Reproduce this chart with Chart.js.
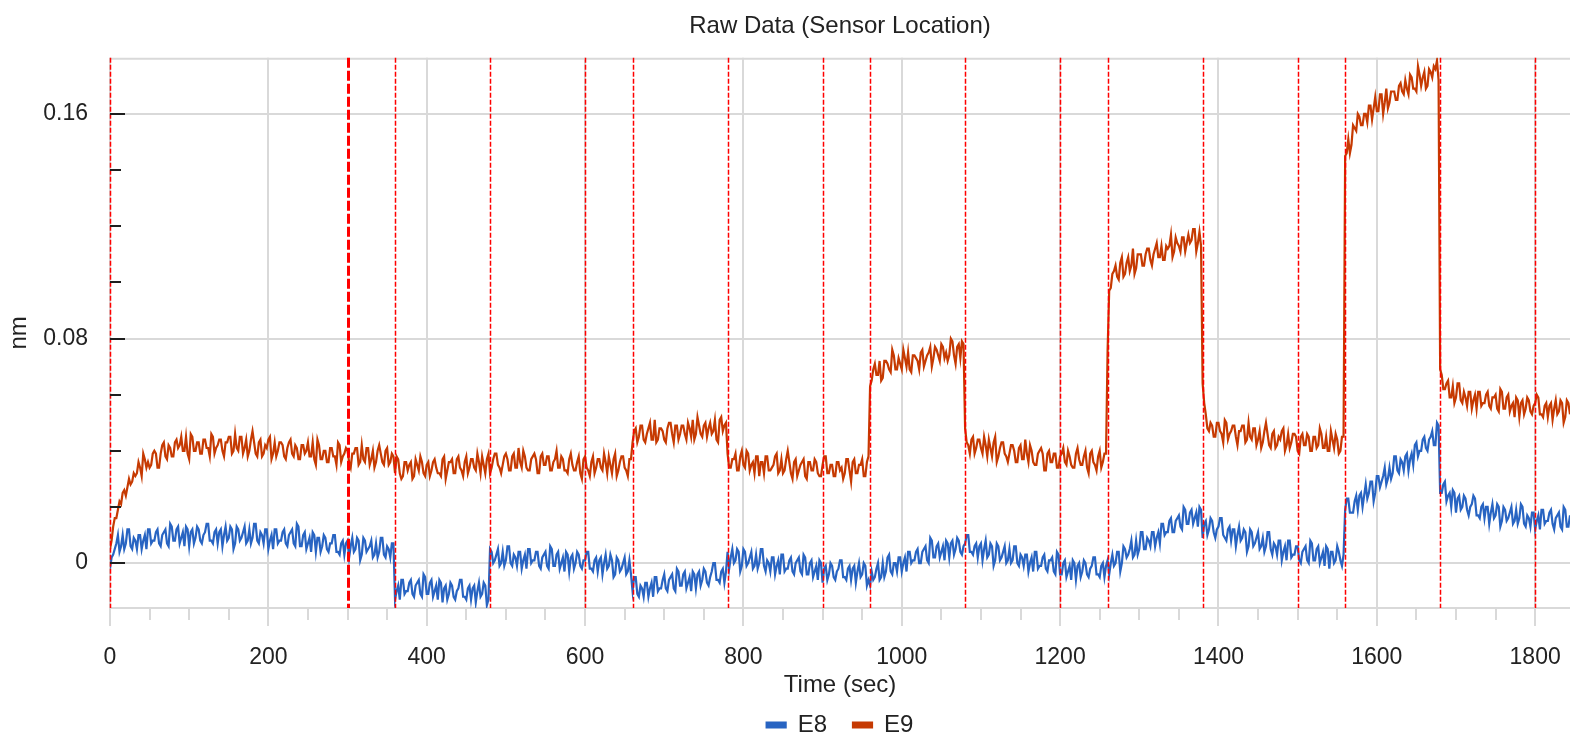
<!DOCTYPE html>
<html>
<head>
<meta charset="utf-8">
<title>Raw Data (Sensor Location)</title>
<script src="https://cdn.jsdelivr.net/npm/chart.js@4.4.1/dist/chart.umd.min.js"></script>
<style>
  html, body { margin: 0; padding: 0; background: #fff; }
  #wrap { width: 1570px; height: 732px; }
</style>
</head>
<body>
<div id="wrap"><canvas id="rawChart" width="1570" height="732"></canvas></div>
<script>
// Sensor trace, one reading every 2 s starting at t = 0 (nm)
const SAMPLE_STEP = 2;

const E8 = [
  -0.002, 0.002, 0.003, 0.005, 0.007, 0.010, 0.004, 0.006, 0.010, 0.005,
  0.007, 0.012, 0.012, 0.006, 0.005, 0.009, 0.008, 0.005, 0.010, 0.010,
  0.005, 0.008, 0.010, 0.005, 0.012, 0.012, 0.007, 0.008, 0.008, 0.011,
  0.012, 0.007, 0.006, 0.010, 0.011, 0.012, 0.007, 0.006, 0.014, 0.013,
  0.008, 0.008, 0.012, 0.013, 0.007, 0.009, 0.011, 0.006, 0.013, 0.012,
  0.006, 0.011, 0.012, 0.007, 0.009, 0.013, 0.012, 0.008, 0.007, 0.010,
  0.011, 0.014, 0.014, 0.008, 0.008, 0.007, 0.011, 0.012, 0.007, 0.011,
  0.012, 0.006, 0.010, 0.013, 0.008, 0.009, 0.013, 0.012, 0.005, 0.007,
  0.013, 0.012, 0.008, 0.009, 0.011, 0.013, 0.007, 0.008, 0.012, 0.007,
  0.009, 0.014, 0.014, 0.008, 0.007, 0.011, 0.010, 0.007, 0.012, 0.012,
  0.005, 0.008, 0.010, 0.005, 0.012, 0.012, 0.007, 0.008, 0.008, 0.011,
  0.012, 0.007, 0.006, 0.010, 0.011, 0.012, 0.007, 0.006, 0.014, 0.013,
  0.006, 0.006, 0.010, 0.011, 0.005, 0.007, 0.009, 0.004, 0.011, 0.010,
  0.004, 0.009, 0.009, 0.004, 0.006, 0.010, 0.009, 0.005, 0.004, 0.007,
  0.007, 0.010, 0.010, 0.004, 0.004, 0.003, 0.007, 0.008, 0.003, 0.007,
  // 300 s
  0.008, 0.002, 0.006, 0.009, 0.004, 0.005, 0.009, 0.008, 0.001, 0.003,
  0.009, 0.008, 0.004, 0.005, 0.006, 0.008, 0.002, 0.003, 0.007, 0.002,
  0.004, 0.009, 0.009, 0.003, 0.002, 0.006, 0.005, 0.002, 0.007, 0.007,
  // 360 s
  -0.013, -0.010, -0.008, -0.013, -0.006, -0.006, -0.011, -0.010, -0.010, -0.007,
  -0.006, -0.011, -0.012, -0.008, -0.007, -0.006, -0.011, -0.012, -0.004, -0.005,
  -0.011, -0.011, -0.007, -0.006, -0.012, -0.010, -0.008, -0.013, -0.006, -0.007,
  -0.014, -0.009, -0.008, -0.013, -0.011, -0.007, -0.008, -0.012, -0.013, -0.010,
  -0.009, -0.006, -0.006, -0.012, -0.012, -0.013, -0.009, -0.008, -0.013, -0.009,
  -0.008, -0.014, -0.010, -0.007, -0.012, -0.011, -0.007, -0.008, -0.015, -0.013,
  // 480 s
  0.005, 0.004, 0.000, 0.001, 0.003, 0.005, -0.001, 0.000, 0.004, -0.001,
  0.001, 0.006, 0.006, 0.000, -0.001, 0.003, 0.002, -0.001, 0.004, 0.004,
  -0.002, 0.001, 0.003, -0.002, 0.005, 0.005, 0.000, 0.001, 0.001, 0.004,
  0.004, -0.001, -0.002, 0.002, 0.003, 0.004, -0.001, -0.002, 0.006, 0.005,
  -0.001, -0.001, 0.003, 0.004, -0.002, 0.000, 0.002, -0.003, 0.004, 0.003,
  -0.003, 0.002, 0.003, -0.002, 0.000, 0.004, 0.003, -0.001, -0.002, 0.001,
  // 600 s
  0.001, 0.004, 0.004, -0.002, -0.002, -0.003, 0.001, 0.002, -0.003, 0.001,
  0.002, -0.004, 0.000, 0.003, -0.002, -0.001, 0.003, 0.001, -0.005, -0.004,
  0.002, 0.001, -0.003, -0.002, 0.000, 0.002, -0.004, -0.003, 0.001, -0.004,
  // 660 s
  -0.010, -0.005, -0.005, -0.011, -0.012, -0.008, -0.009, -0.012, -0.007, -0.007,
  -0.012, -0.009, -0.007, -0.012, -0.005, -0.005, -0.010, -0.009, -0.009, -0.006,
  -0.004, -0.009, -0.010, -0.006, -0.005, -0.004, -0.009, -0.010, -0.002, -0.003,
  -0.008, -0.008, -0.004, -0.003, -0.009, -0.007, -0.005, -0.010, -0.003, -0.004,
  -0.009, -0.004, -0.003, -0.008, -0.006, -0.002, -0.003, -0.007, -0.008, -0.005,
  -0.003, 0.000, 0.000, -0.006, -0.006, -0.007, -0.003, -0.002, -0.007, -0.003,
  // 780 s
  0.004, -0.002, 0.002, 0.005, 0.000, 0.001, 0.005, 0.004, -0.003, -0.001,
  0.005, 0.004, -0.001, 0.000, 0.002, 0.004, -0.002, -0.001, 0.003, -0.002,
  0.000, 0.005, 0.005, -0.001, -0.003, 0.001, 0.000, -0.003, 0.002, 0.002,
  -0.004, -0.001, 0.001, -0.004, 0.003, 0.003, -0.003, -0.002, -0.002, 0.001,
  0.002, -0.003, -0.004, 0.000, 0.001, 0.002, -0.003, -0.004, 0.003, 0.002,
  -0.004, -0.004, 0.000, 0.001, -0.005, -0.003, -0.001, -0.006, 0.001, 0.000,
  // 900 s
  -0.007, -0.002, -0.001, -0.006, -0.004, 0.000, -0.001, -0.005, -0.006, -0.003,
  -0.002, 0.001, 0.001, -0.005, -0.005, -0.006, -0.002, -0.001, -0.006, -0.002,
  -0.001, -0.007, -0.003, 0.000, -0.005, -0.004, 0.000, -0.001, -0.008, -0.006,
  // 960 s
  -0.008, -0.003, -0.006, -0.005, -0.002, 0.000, -0.006, -0.005, 0.000, -0.005,
  -0.003, 0.002, 0.003, -0.003, -0.004, 0.000, 0.000, -0.003, 0.002, 0.002,
  -0.003, 0.000, 0.002, -0.003, 0.004, 0.004, 0.000, 0.001, 0.001, 0.004,
  0.005, 0.000, 0.000, 0.004, 0.005, 0.006, 0.001, 0.000, 0.009, 0.008,
  0.002, 0.002, 0.006, 0.007, 0.002, 0.004, 0.006, 0.001, 0.008, 0.007,
  0.002, 0.007, 0.008, 0.003, 0.005, 0.009, 0.008, 0.004, 0.003, 0.006,
  // 1080 s
  0.007, 0.010, 0.010, 0.004, 0.004, 0.003, 0.006, 0.007, 0.002, 0.006,
  0.007, 0.001, 0.005, 0.008, 0.002, 0.003, 0.007, 0.006, -0.001, 0.001,
  0.007, 0.006, 0.001, 0.002, 0.004, 0.006, 0.000, 0.001, 0.005, 0.000,
  0.001, 0.006, 0.006, 0.000, -0.001, 0.003, 0.002, -0.001, 0.003, 0.003,
  -0.003, 0.000, 0.002, -0.003, 0.004, 0.004, -0.002, -0.001, -0.001, 0.002,
  0.003, -0.002, -0.003, 0.001, 0.001, 0.002, -0.003, -0.004, 0.004, 0.003,
  // 1200 s
  -0.004, -0.004, 0.000, 0.001, -0.005, -0.003, -0.001, -0.006, 0.001, 0.000,
  -0.006, -0.001, 0.000, -0.005, -0.003, 0.001, 0.000, -0.004, -0.005, -0.002,
  -0.001, 0.002, 0.002, -0.004, -0.004, -0.005, -0.001, 0.000, -0.005, -0.001,
  // 1260 s
  0.001, -0.004, 0.000, 0.003, -0.001, 0.000, 0.004, 0.004, -0.003, 0.000,
  0.006, 0.005, 0.002, 0.003, 0.005, 0.008, 0.002, 0.003, 0.008, 0.003,
  0.005, 0.011, 0.011, 0.005, 0.005, 0.009, 0.008, 0.006, 0.011, 0.011,
  0.006, 0.009, 0.011, 0.007, 0.014, 0.014, 0.010, 0.011, 0.011, 0.015,
  0.016, 0.011, 0.011, 0.015, 0.016, 0.017, 0.013, 0.012, 0.020, 0.019,
  0.014, 0.014, 0.018, 0.019, 0.014, 0.016, 0.018, 0.013, 0.020, 0.019,
  // 1380 s
  0.009, 0.014, 0.015, 0.010, 0.012, 0.016, 0.015, 0.011, 0.009, 0.012,
  0.013, 0.016, 0.016, 0.010, 0.009, 0.008, 0.012, 0.013, 0.008, 0.012,
  0.012, 0.006, 0.010, 0.013, 0.008, 0.009, 0.012, 0.011, 0.004, 0.006,
  0.012, 0.011, 0.006, 0.007, 0.009, 0.011, 0.005, 0.006, 0.009, 0.004,
  0.006, 0.011, 0.011, 0.005, 0.003, 0.007, 0.006, 0.003, 0.008, 0.008,
  0.001, 0.004, 0.006, 0.001, 0.008, 0.008, 0.002, 0.003, 0.003, 0.006,
  // 1500 s
  0.006, 0.001, 0.000, 0.004, 0.005, 0.006, 0.001, 0.000, 0.008, 0.007,
  0.001, 0.001, 0.005, 0.006, 0.000, 0.002, 0.004, -0.001, 0.006, 0.005,
  -0.002, 0.004, 0.004, 0.000, 0.001, 0.006, 0.004, 0.001, -0.001, 0.003,
  // 1560 s
  0.019, 0.023, 0.023, 0.018, 0.018, 0.018, 0.022, 0.024, 0.019, 0.024,
  0.025, 0.020, 0.024, 0.028, 0.023, 0.025, 0.029, 0.029, 0.022, 0.025,
  0.031, 0.031, 0.027, 0.029, 0.031, 0.034, 0.028, 0.030, 0.034, 0.030,
  0.032, 0.038, 0.038, 0.033, 0.032, 0.037, 0.036, 0.033, 0.038, 0.039,
  0.033, 0.037, 0.039, 0.035, 0.042, 0.043, 0.038, 0.040, 0.040, 0.044,
  0.045, 0.041, 0.040, 0.044, 0.045, 0.047, 0.042, 0.042, 0.050, 0.049,
  // 1680 s
  0.025, 0.025, 0.028, 0.029, 0.022, 0.024, 0.025, 0.020, 0.026, 0.025,
  0.018, 0.023, 0.024, 0.019, 0.020, 0.024, 0.023, 0.019, 0.017, 0.020,
  0.021, 0.024, 0.023, 0.017, 0.017, 0.016, 0.020, 0.021, 0.016, 0.020,
  0.020, 0.014, 0.018, 0.021, 0.016, 0.017, 0.021, 0.020, 0.013, 0.015,
  0.020, 0.019, 0.015, 0.016, 0.018, 0.020, 0.014, 0.015, 0.019, 0.014,
  0.016, 0.021, 0.020, 0.014, 0.013, 0.017, 0.016, 0.013, 0.018, 0.018,
  0.012, 0.015, 0.017, 0.012, 0.019, 0.019, 0.014, 0.015, 0.015, 0.018,
  0.019, 0.014, 0.012, 0.016, 0.017, 0.018, 0.013, 0.012, 0.020, 0.019,
  0.013, 0.013, 0.017, 0.018, 0.012
];

const E9 = [
  0.005, 0.008, 0.013, 0.016, 0.016, 0.019, 0.022, 0.021, 0.025, 0.026,
  0.024, 0.027, 0.030, 0.028, 0.029, 0.032, 0.031, 0.032, 0.036, 0.034,
  0.031, 0.039, 0.037, 0.034, 0.036, 0.034, 0.035, 0.039, 0.040, 0.039,
  0.034, 0.034, 0.039, 0.042, 0.043, 0.038, 0.037, 0.042, 0.041, 0.038,
  0.038, 0.043, 0.044, 0.041, 0.042, 0.045, 0.040, 0.040, 0.045, 0.039,
  0.037, 0.046, 0.045, 0.040, 0.040, 0.043, 0.043, 0.039, 0.039, 0.044,
  0.044, 0.041, 0.041, 0.038, 0.046, 0.045, 0.039, 0.041, 0.042, 0.044,
  0.044, 0.040, 0.038, 0.043, 0.043, 0.045, 0.045, 0.039, 0.040, 0.046,
  0.041, 0.040, 0.045, 0.045, 0.039, 0.041, 0.044, 0.038, 0.040, 0.044,
  0.047, 0.043, 0.039, 0.038, 0.043, 0.044, 0.038, 0.039, 0.042, 0.041,
  0.044, 0.045, 0.037, 0.039, 0.043, 0.038, 0.040, 0.043, 0.043, 0.042,
  0.038, 0.037, 0.041, 0.043, 0.044, 0.039, 0.038, 0.042, 0.041, 0.037,
  0.037, 0.042, 0.042, 0.039, 0.040, 0.043, 0.038, 0.038, 0.043, 0.037,
  0.035, 0.044, 0.042, 0.037, 0.037, 0.040, 0.040, 0.036, 0.036, 0.041,
  0.041, 0.038, 0.038, 0.035, 0.043, 0.042, 0.036, 0.038, 0.039, 0.041,
  // 300 s
  0.040, 0.036, 0.034, 0.039, 0.039, 0.041, 0.041, 0.035, 0.036, 0.042,
  0.037, 0.036, 0.041, 0.041, 0.035, 0.037, 0.040, 0.034, 0.036, 0.040,
  0.042, 0.039, 0.036, 0.035, 0.040, 0.041, 0.035, 0.036, 0.039, 0.038,
  // 360 s
  0.032, 0.038, 0.037, 0.032, 0.030, 0.031, 0.036, 0.036, 0.033, 0.035,
  0.036, 0.030, 0.031, 0.037, 0.035, 0.033, 0.038, 0.036, 0.032, 0.031,
  0.035, 0.036, 0.031, 0.033, 0.036, 0.037, 0.034, 0.032, 0.032, 0.031,
  0.037, 0.038, 0.030, 0.033, 0.036, 0.036, 0.037, 0.032, 0.032, 0.037,
  0.038, 0.034, 0.033, 0.031, 0.036, 0.038, 0.032, 0.034, 0.037, 0.037,
  0.034, 0.033, 0.039, 0.036, 0.032, 0.038, 0.035, 0.032, 0.037, 0.039,
  // 480 s
  0.032, 0.034, 0.037, 0.039, 0.039, 0.035, 0.034, 0.032, 0.035, 0.038,
  0.039, 0.037, 0.033, 0.033, 0.038, 0.039, 0.034, 0.034, 0.041, 0.036,
  0.034, 0.040, 0.038, 0.034, 0.033, 0.033, 0.037, 0.038, 0.039, 0.037,
  0.032, 0.032, 0.038, 0.039, 0.035, 0.035, 0.038, 0.038, 0.033, 0.033,
  0.036, 0.037, 0.040, 0.034, 0.034, 0.038, 0.037, 0.033, 0.033, 0.032,
  0.037, 0.039, 0.035, 0.033, 0.033, 0.036, 0.038, 0.032, 0.030, 0.037,
  // 600 s
  0.038, 0.034, 0.033, 0.031, 0.036, 0.038, 0.032, 0.034, 0.037, 0.037,
  0.034, 0.033, 0.039, 0.036, 0.032, 0.038, 0.035, 0.032, 0.037, 0.039,
  0.031, 0.033, 0.036, 0.038, 0.038, 0.034, 0.033, 0.031, 0.037, 0.037,
  // 660 s
  0.043, 0.047, 0.048, 0.043, 0.045, 0.049, 0.049, 0.044, 0.043, 0.046,
  0.048, 0.050, 0.044, 0.044, 0.051, 0.043, 0.044, 0.048, 0.048, 0.047,
  0.044, 0.043, 0.048, 0.050, 0.050, 0.046, 0.043, 0.049, 0.049, 0.044,
  0.046, 0.049, 0.049, 0.046, 0.044, 0.050, 0.048, 0.045, 0.051, 0.044,
  0.046, 0.052, 0.049, 0.046, 0.045, 0.049, 0.050, 0.045, 0.048, 0.050,
  0.046, 0.047, 0.051, 0.044, 0.043, 0.051, 0.052, 0.047, 0.049, 0.050,
  // 780 s
  0.039, 0.034, 0.034, 0.037, 0.037, 0.039, 0.033, 0.033, 0.038, 0.040,
  0.035, 0.034, 0.040, 0.039, 0.033, 0.035, 0.036, 0.032, 0.038, 0.038,
  0.031, 0.036, 0.036, 0.032, 0.038, 0.038, 0.033, 0.033, 0.034, 0.035,
  0.038, 0.039, 0.032, 0.033, 0.037, 0.032, 0.033, 0.037, 0.040, 0.036,
  0.032, 0.030, 0.036, 0.037, 0.031, 0.033, 0.035, 0.036, 0.037, 0.031,
  0.030, 0.036, 0.036, 0.033, 0.033, 0.037, 0.036, 0.032, 0.031, 0.031,
  // 900 s
  0.035, 0.038, 0.038, 0.032, 0.032, 0.035, 0.035, 0.031, 0.031, 0.036,
  0.036, 0.033, 0.034, 0.030, 0.032, 0.037, 0.037, 0.033, 0.029, 0.036,
  0.037, 0.032, 0.032, 0.035, 0.035, 0.037, 0.031, 0.031, 0.036, 0.038,
  // 960 s
  0.063, 0.065, 0.069, 0.071, 0.067, 0.067, 0.072, 0.065, 0.066, 0.072,
  0.072, 0.071, 0.069, 0.068, 0.076, 0.074, 0.069, 0.069, 0.073, 0.071,
  0.069, 0.076, 0.073, 0.070, 0.075, 0.069, 0.068, 0.074, 0.074, 0.073,
  0.072, 0.069, 0.075, 0.076, 0.070, 0.072, 0.074, 0.075, 0.077, 0.070,
  0.073, 0.077, 0.076, 0.074, 0.072, 0.078, 0.077, 0.073, 0.075, 0.072,
  0.074, 0.080, 0.079, 0.074, 0.071, 0.077, 0.078, 0.073, 0.079, 0.078,
  // 1080 s
  0.048, 0.043, 0.042, 0.039, 0.044, 0.045, 0.039, 0.041, 0.044, 0.044,
  0.041, 0.039, 0.045, 0.042, 0.038, 0.044, 0.041, 0.038, 0.043, 0.045,
  0.036, 0.038, 0.041, 0.043, 0.043, 0.039, 0.038, 0.036, 0.039, 0.042,
  0.042, 0.040, 0.036, 0.036, 0.041, 0.042, 0.037, 0.037, 0.044, 0.039,
  0.036, 0.042, 0.040, 0.036, 0.035, 0.035, 0.039, 0.040, 0.041, 0.039,
  0.033, 0.033, 0.039, 0.040, 0.036, 0.036, 0.039, 0.039, 0.034, 0.034,
  // 1200 s
  0.038, 0.039, 0.041, 0.036, 0.035, 0.040, 0.038, 0.035, 0.034, 0.034,
  0.039, 0.041, 0.037, 0.035, 0.035, 0.038, 0.040, 0.034, 0.032, 0.039,
  0.040, 0.036, 0.035, 0.033, 0.038, 0.040, 0.034, 0.036, 0.039, 0.039,
  // 1260 s
  0.076, 0.097, 0.098, 0.103, 0.104, 0.106, 0.102, 0.101, 0.107, 0.109,
  0.102, 0.103, 0.107, 0.109, 0.104, 0.106, 0.112, 0.103, 0.105, 0.110,
  0.110, 0.110, 0.106, 0.106, 0.110, 0.112, 0.112, 0.108, 0.106, 0.110,
  0.112, 0.114, 0.109, 0.109, 0.113, 0.108, 0.108, 0.113, 0.112, 0.113,
  0.117, 0.109, 0.111, 0.116, 0.114, 0.113, 0.111, 0.116, 0.116, 0.111,
  0.114, 0.117, 0.114, 0.115, 0.119, 0.119, 0.111, 0.114, 0.118, 0.113,
  // 1380 s
  0.064, 0.057, 0.053, 0.048, 0.047, 0.050, 0.049, 0.045, 0.045, 0.050,
  0.050, 0.047, 0.046, 0.043, 0.051, 0.050, 0.044, 0.046, 0.047, 0.049,
  0.049, 0.045, 0.042, 0.047, 0.047, 0.049, 0.049, 0.043, 0.044, 0.050,
  0.045, 0.044, 0.048, 0.048, 0.042, 0.044, 0.047, 0.041, 0.043, 0.047,
  0.050, 0.046, 0.042, 0.041, 0.046, 0.047, 0.041, 0.042, 0.045, 0.044,
  0.047, 0.048, 0.040, 0.042, 0.046, 0.041, 0.043, 0.046, 0.046, 0.045,
  // 1500 s
  0.040, 0.039, 0.045, 0.046, 0.042, 0.042, 0.046, 0.045, 0.040, 0.040,
  0.045, 0.045, 0.041, 0.042, 0.048, 0.046, 0.041, 0.041, 0.045, 0.040,
  0.040, 0.047, 0.044, 0.041, 0.046, 0.044, 0.039, 0.040, 0.045, 0.045,
  // 1560 s
  0.145, 0.146, 0.151, 0.146, 0.149, 0.156, 0.155, 0.154, 0.160, 0.159,
  0.156, 0.156, 0.160, 0.160, 0.157, 0.163, 0.163, 0.158, 0.162, 0.166,
  0.161, 0.161, 0.167, 0.167, 0.160, 0.164, 0.169, 0.162, 0.164, 0.168,
  0.168, 0.168, 0.165, 0.165, 0.170, 0.171, 0.168, 0.167, 0.172, 0.169,
  0.167, 0.174, 0.173, 0.169, 0.169, 0.168, 0.177, 0.174, 0.170, 0.173,
  0.175, 0.169, 0.170, 0.176, 0.175, 0.173, 0.177, 0.176, 0.179, 0.172,
  // 1680 s
  0.069, 0.067, 0.062, 0.062, 0.064, 0.065, 0.059, 0.059, 0.063, 0.057,
  0.059, 0.064, 0.064, 0.058, 0.057, 0.061, 0.059, 0.056, 0.061, 0.061,
  0.055, 0.058, 0.060, 0.055, 0.061, 0.061, 0.056, 0.057, 0.057, 0.060,
  0.061, 0.056, 0.055, 0.059, 0.059, 0.060, 0.055, 0.054, 0.062, 0.061,
  0.055, 0.055, 0.059, 0.060, 0.054, 0.056, 0.057, 0.052, 0.059, 0.058,
  0.052, 0.057, 0.058, 0.053, 0.055, 0.059, 0.058, 0.054, 0.053, 0.056,
  0.057, 0.060, 0.059, 0.053, 0.053, 0.052, 0.056, 0.057, 0.052, 0.056,
  0.057, 0.051, 0.055, 0.058, 0.053, 0.054, 0.058, 0.057, 0.050, 0.052,
  0.058, 0.057, 0.053, 0.054, 0.056
];

// step change markers (sec); the 300 s one is drawn heavier
const markerTimes = [0, 300, 360, 480, 600, 660, 780, 900, 960, 1080, 1200, 1260, 1380, 1500, 1560, 1680, 1800];
const boldMarkerTimes = [300];

const xLabelTicks = [0, 200, 400, 600, 800, 1000, 1200, 1400, 1600, 1800];
const X_MINOR_STEP = 50;
const yTickValues = [0, 0.02, 0.04, 0.06, 0.08, 0.10, 0.12, 0.14, 0.16];
const yLabelTicks = [0, 0.08, 0.16];

const GRID = '#d9d9d9';
const NONE = 'rgba(0,0,0,0)';

Chart.defaults.font.family = '"Liberation Sans", Arial, sans-serif';
Chart.defaults.color = '#222';

const toPoints = arr => arr.map((v, i) => ({ x: i * SAMPLE_STEP, y: v }));

// red dashed step lines, on top of the traces
const markerPlugin = {
  id: 'stepMarkers',
  afterDatasetsDraw(chart) {
    const { ctx, chartArea, scales: { x } } = chart;
    ctx.save();
    ctx.strokeStyle = '#ff0000';
    markerTimes.forEach(t => {
      const bold = boldMarkerTimes.includes(t);
      const px = Math.round(x.getPixelForValue(t)) + 0.5;
      ctx.lineWidth = bold ? 3 : 1.5;
      ctx.setLineDash(bold ? [10, 3] : [5, 2]);
      ctx.beginPath();
      ctx.moveTo(px, chartArea.top);
      ctx.lineTo(px, chartArea.bottom);
      ctx.stroke();
    });
    ctx.restore();
  }
};

// top frame line + tick marks (inside on y, outside on x)
const tickPlugin = {
  id: 'axisTicks',
  beforeDatasetsDraw(chart) {
    const { ctx, chartArea: a } = chart;
    ctx.save();
    ctx.strokeStyle = GRID;
    ctx.lineWidth = 2;
    ctx.beginPath();
    ctx.moveTo(a.left, a.top + 1);
    ctx.lineTo(a.right, a.top + 1);
    ctx.stroke();
    ctx.restore();
  },
  afterDraw(chart) {
    const { ctx, chartArea: a, scales: { x, y } } = chart;
    ctx.save();
    ctx.lineWidth = 2;
    ctx.strokeStyle = GRID;
    x.ticks.forEach(t => {
      const px = Math.round(x.getPixelForValue(t.value));
      const len = xLabelTicks.includes(t.value) ? 18 : 12;
      ctx.beginPath();
      ctx.moveTo(px, a.bottom);
      ctx.lineTo(px, a.bottom + len);
      ctx.stroke();
    });
    ctx.strokeStyle = '#1e1e1e';
    y.ticks.forEach(t => {
      const py = Math.round(y.getPixelForValue(t.value));
      const len = yLabelTicks.includes(t.value) ? 15 : 11;
      ctx.beginPath();
      ctx.moveTo(a.left, py);
      ctx.lineTo(a.left + len, py);
      ctx.stroke();
    });
    ctx.restore();
  }
};

new Chart(document.getElementById('rawChart'), {
  type: 'line',
  data: {
    datasets: [
      {
        label: 'E8',
        data: toPoints(E8),
        borderColor: '#2864c2',
        backgroundColor: '#2864c2',
        borderWidth: 2.2,
        pointRadius: 0,
        order: 1
      },
      {
        label: 'E9',
        data: toPoints(E9),
        borderColor: '#c63a02',
        backgroundColor: '#c63a02',
        borderWidth: 2.2,
        pointRadius: 0,
        order: 0
      }
    ]
  },
  options: {
    responsive: false,
    animation: false,
    layout: { padding: 0 },
    plugins: {
      title: {
        display: true,
        fullSize: false,
        text: 'Raw Data (Sensor Location)',
        color: '#222',
        font: { size: 24, weight: 'normal' },
        padding: { top: 12, bottom: 17 }
      },
      legend: {
        position: 'bottom',
        fullSize: false,
        maxHeight: 45,
        labels: {
          boxWidth: 19,
          boxHeight: 5,
          padding: 26,
          font: { size: 24 },
          sort: (a, b) => a.datasetIndex - b.datasetIndex
        }
      },
      tooltip: { enabled: false }
    },
    scales: {
      x: {
        type: 'linear',
        min: 0,
        max: 1844,
        afterBuildTicks: scale => {
          const ticks = [];
          for (let v = 0; v <= scale.max; v += X_MINOR_STEP) ticks.push({ value: v });
          scale.ticks = ticks;
        },
        afterFit: scale => { scale.height = 79; },
        ticks: {
          autoSkip: false,
          maxRotation: 0,
          padding: 0,
          font: { size: 23 },
          callback: v => xLabelTicks.includes(v) ? String(v) : ''
        },
        grid: {
          drawTicks: true,
          tickLength: 36,
          tickColor: NONE,
          lineWidth: 2,
          color: c => (c.tick && xLabelTicks.includes(c.tick.value)) ? GRID : NONE
        },
        border: { display: true, color: GRID, width: 2 },
        title: {
          display: true,
          text: 'Time (sec)',
          font: { size: 24 },
          padding: { top: 0, bottom: -13 }
        }
      },
      y: {
        min: -0.016,
        max: 0.18,
        afterBuildTicks: scale => {
          scale.ticks = yTickValues.map(v => ({ value: v }));
        },
        afterFit: scale => { scale.width = 110; },
        ticks: {
          autoSkip: false,
          padding: 22,
          font: { size: 23 },
          callback: v => yLabelTicks.includes(v) ? (v === 0 ? '0' : v.toFixed(2)) : ''
        },
        grid: {
          drawTicks: false,
          lineWidth: 2,
          color: c => (c.tick && yLabelTicks.includes(c.tick.value)) ? GRID : NONE
        },
        border: { display: false },
        title: {
          display: true,
          text: 'nm',
          font: { size: 24 },
          padding: { top: 5, bottom: 0 }
        }
      }
    }
  },
  plugins: [markerPlugin, tickPlugin]
});
</script>
</body>
</html>
